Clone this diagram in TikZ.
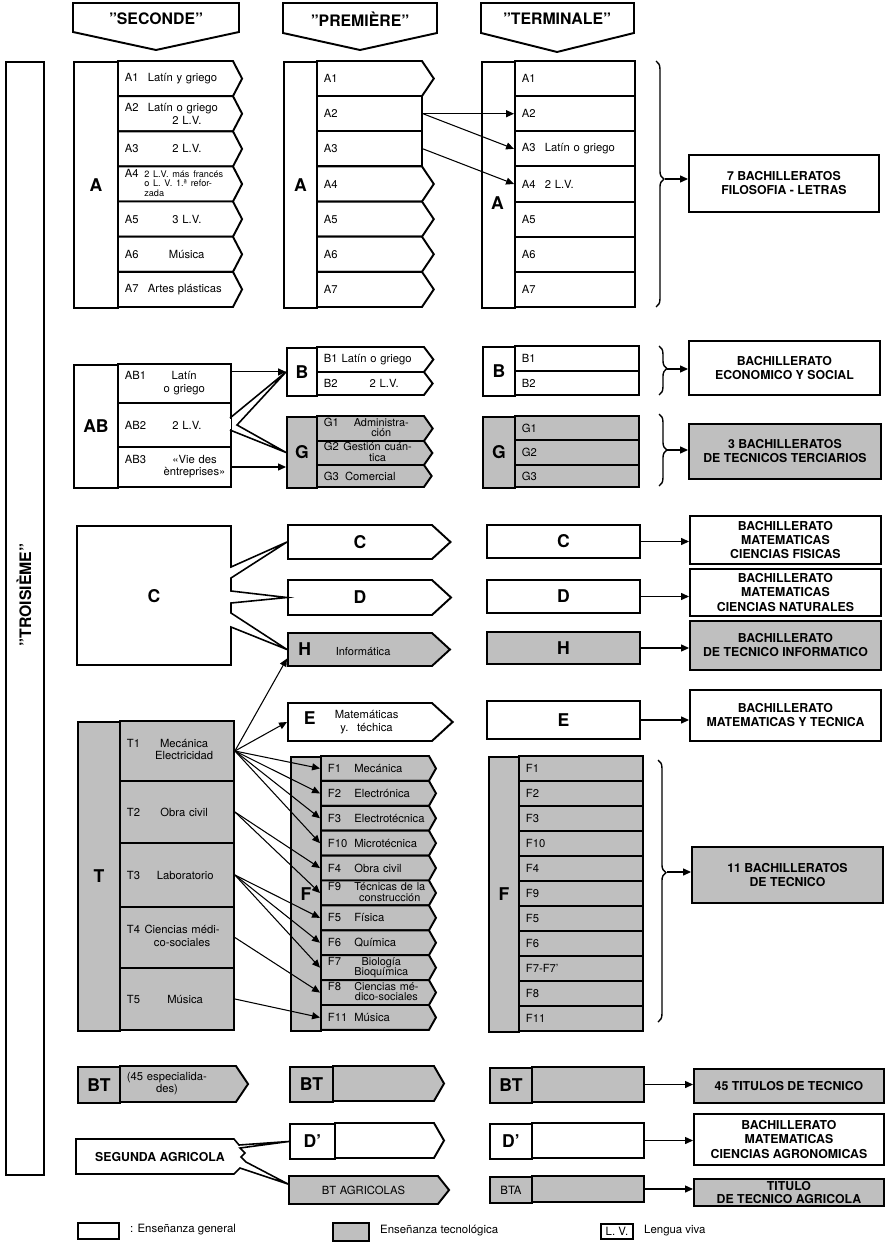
\documentclass[tikz,border=0pt]{standalone}
\usepackage{fontspec}
\setmainfont{TeX Gyre Heros}
\usetikzlibrary{positioning,arrows.meta,calc,shapes.symbols,decorations.pathreplacing}

\newcommand{\rlab}[2]{\makebox[#1][l]{#2}}
\newcommand{\tline}[2]{\begin{tabular}[t]{@{}c@{}}#1\\#2\end{tabular}}
\newcommand{\tset}{\fontsize{6.2}{5.8}\selectfont\renewcommand\arraystretch{0.85}}

\begin{document}
\begin{tikzpicture}[
    x=0.02cm, y=-0.02cm,
    >={Triangle[length=4.5pt,width=4pt]},
    box/.style={draw, line width=1.1pt, fill=white, inner sep=0pt},
    tec/.style={fill=black!25},
    lcol/.style={box, anchor=north west, font=\bfseries\fontsize{10}{10}\selectfont},
    bigl/.style={font=\bfseries\fontsize{10}{10}\selectfont},
    rw/.style={box, anchor=west, inner xsep=0.14cm, inner ysep=0pt, align=left,
               font=\fontsize{6.4}{7.4}\selectfont\renewcommand\arraystretch{0.95}},
    ptr/.style={rw, shape=signal, signal to=east, signal pointer angle=#1},
    sArow/.style={ptr=125, text width=2.02cm, minimum height=0.703cm},
    pArow/.style={ptr=112, text width=1.82cm, minimum height=0.703cm},
    pbig/.style={ptr=85, text width=2.6cm, align=center,
                 font=\bfseries\fontsize{10}{10}\selectfont},
    tbox/.style={box, anchor=west, minimum width=3.06cm,
                 font=\bfseries\fontsize{10}{10}\selectfont},
    bach/.style={box, anchor=north west, align=center,
                 font=\bfseries\fontsize{7}{8}\selectfont},
    hdr/.style={font=\bfseries\fontsize{9}{9}\selectfont},
    outl/.style={line width=0.9pt, line join=miter},
    sig/.style={->, line width=0.6pt},
    brc/.style={decorate, decoration={brace, amplitude=4.5pt, aspect=#1},
                line width=0.8pt},
    note/.style={anchor=west, font=\fontsize{6.5}{7}\selectfont},
  ]
  \useasboundingbox (0,0) rectangle (888,1243);

  % ============ headers ============
  \draw[box] (73,3) -- (239,3) -- (239,32) -- (156,50) -- (73,32) -- cycle;
  \node[hdr] (hSec) at (156,19) {''SECONDE''};
  \draw[box] (283,3) -- (437,3) -- (437,33) -- (360,50) -- (283,33) -- cycle;
  \node[hdr] (hPre) at (360,19) {''PREMIÈRE''};
  \draw[box] (481,3) -- (634,3) -- (634,33) -- (557,52) -- (481,33) -- cycle;
  \node[hdr] (hTer) at (557,19) {''TERMINALE''};

  \node[box, anchor=north west, minimum width=0.76cm, minimum height=22.26cm] (trois) at (5,61) {};
  \node[hdr, rotate=90] (troisT) at (24,595) {''TROISIÈME''};

  % ============ A ============
  \node[lcol, minimum width=0.88cm, minimum height=4.92cm] (sA) at (73,61) {A};
  \node[sArow] (sA1) at (117,78.6) {\rlab{13pt}{A1}Latín y griego};
  \node[sArow] (sA2) at (117,113.7) {\rlab{13pt}{A2}Latín o griego\\\hspace*{27pt}2 L.V.};
  \node[sArow] (sA3) at (117,148.9) {\rlab{27pt}{A3}2 L.V.};
  \node[sArow] (sA4) at (117,184) {\rlab{11pt}{A4}{\fontsize{5.2}{5.6}\selectfont
        \begin{tabular}[t]{@{}l@{}}2 L.V. más francés\\o L. V. 1.ª refor-\\zada\end{tabular}}};
  \node[sArow] (sA5) at (117,219.1) {\rlab{27pt}{A5}3 L.V.};
  \node[sArow] (sA6) at (117,254.3) {\rlab{25pt}{A6}Música};
  \node[sArow] (sA7) at (117,289.4) {\rlab{13pt}{A7}Artes plásticas};

  \node[lcol, minimum width=0.66cm, minimum height=4.92cm] (pA) at (283,61) {A};
  \foreach \i in {1,4,5,6,7}
    \node[pArow] (pA\i) at (316,{61+35.14*(\i-0.5)}) {A\i};
  \foreach \i in {2,3}
    \node[rw, text width=1.82cm, minimum height=0.703cm] (pA\i) at (316,{61+35.14*(\i-0.5)}) {A\i};

  \node[lcol, minimum width=0.66cm, minimum height=4.92cm] (tA) at (481,61) {};
  \node[bigl] (tAl) at (497.5,203) {A};
  \foreach \i/\t in {1/,2/,3/Latín o griego,4/2 L.V.,5/,6/,7/}
    \node[rw, text width=2.12cm, minimum height=0.703cm] (tA\i) at (514,{61+35.14*(\i-0.5)}) {\rlab{13pt}{A\i}\t};

  \draw[brc=0.48] (656,61) -- (656,307);
  \coordinate (brA) at (665,179);
  \node[bach, minimum width=3.8cm, minimum height=1.14cm] (bA) at (688,154) {7 BACHILLERATOS\\FILOSOFIA - LETRAS};
  \draw[sig] (brA) -- (brA -| bA.west);
  \draw[sig] (pA2.east) -- (tA2.west);
  \draw[sig] (pA2.east) -- (tA3.west);
  \draw[sig] (pA3.east) -- (tA4.west);

  % ============ AB, B, G ============
  \node[lcol, minimum width=0.88cm, minimum height=2.46cm] (sAB) at (73,364) {AB};
  \node[rw, text width=1.98cm, minimum height=0.78cm] (sAB1) at (117,383.5) {\rlab{22pt}{AB1}\tline{Latín}{o griego}};
  \node[rw, text width=1.98cm, minimum height=0.88cm] (sAB2) at (117,425) {\rlab{27pt}{AB2}2 L.V.};
  \node[rw, text width=1.98cm, minimum height=0.8cm] (sAB3) at (117,467) {\rlab{22pt}{AB3}\tline{«Vie des}{èntreprises»}};

  \node[lcol, minimum width=0.6cm, minimum height=0.96cm] (pB) at (286,347) {B};
  \node[ptr=106, text width=1.86cm, minimum height=0.5cm] (pB1) at (316,359.5) {\rlab{10pt}{B1}Latín o griego};
  \node[ptr=106, text width=1.86cm, minimum height=0.46cm] (pB2) at (316,383.5) {\rlab{26pt}{B2}2 L.V.};
  \node[lcol, tec, minimum width=0.6cm, minimum height=1.42cm] (pG) at (286,416) {G};
  \node[ptr=110, tec, text width=1.86cm, minimum height=0.5cm] (pG1) at (316,428.5) {\rlab{17pt}{G1}\tset\tline{Administra-}{ción}};
  \node[ptr=110, tec, text width=1.86cm, minimum height=0.48cm] (pG2) at (316,453) {\rlab{11pt}{G2}\tset\tline{Gestión cuán-}{tica}};
  \node[ptr=110, tec, text width=1.86cm, minimum height=0.44cm] (pG3) at (316,476) {\rlab{12pt}{G3}Comercial};

  \node[lcol, minimum width=0.64cm, minimum height=0.98cm] (tB) at (482,346) {B};
  \node[rw, text width=2.2cm, minimum height=0.5cm] (tB1) at (514,358.5) {B1};
  \node[rw, text width=2.2cm, minimum height=0.48cm] (tB2) at (514,383) {B2};
  \node[lcol, tec, minimum width=0.64cm, minimum height=1.42cm] (tG) at (482,416) {G};
  \node[rw, tec, text width=2.2cm, minimum height=0.48cm] (tG1) at (514,428) {G1};
  \node[rw, tec, text width=2.2cm, minimum height=0.5cm] (tG2) at (514,452.5) {G2};
  \node[rw, tec, text width=2.2cm, minimum height=0.44cm] (tG3) at (514,476) {G3};

  \draw[brc=0.46] (659,346) -- (659,395);
  \coordinate (brB) at (667,369);
  \node[bach, minimum width=3.82cm, minimum height=1.08cm] (bB) at (688,340) {BACHILLERATO\\ECONOMICO Y SOCIAL};
  \draw[sig] (brB) -- (brB -| bB.west);
  \draw[brc=0.5] (659,414) -- (659,486);
  \coordinate (brG) at (667,450);
  \node[bach, tec, minimum width=3.84cm, minimum height=1.1cm] (bG) at (688,423) {3 BACHILLERATOS\\DE TECNICOS TERCIARIOS};
  \draw[sig] (brG) -- (brG -| bG.west);

  \draw[white, line width=1.6pt] (230,419) -- (230,429);
  \draw[outl] (230,418) -- (pB.west) -- (237,425) -- (pG.west) -- (230,430);
  \draw[sig] (pB.west -| sAB1.east) -- (pB.west);
  \draw[sig] (sAB3.east) -- (sAB3.east -| pG.west);

  % ============ C, D, H, E ============
  \node[pbig, minimum height=0.68cm] (pC) at (287,542) {C};
  \node[pbig, minimum height=0.7cm] (pD) at (287,597.5) {D};
  \node[pbig, tec, minimum height=0.66cm, align=left] (pH) at (287,649.5) {\hspace*{2pt}H\hspace{14pt}{\mdseries\fontsize{6.3}{7}\selectfont Informática}};
  \node[pbig, minimum height=0.76cm, align=left] (pE) at (287,722) {\hspace*{5pt}E\hspace{11pt}{\mdseries\fontsize{6.4}{7.4}\selectfont
        \begin{tabular}{@{}c@{}}Matemáticas\\y. téchica\end{tabular}}};

  \node[bigl] (sC) at (154,596) {C};
  \draw[outl] (pC.west) -- (231,567) -- (231,526) -- (77,526) -- (77,665) -- (231,665)
        -- (231,627) -- (pH.west) -- (231,613) -- (231,603) -- (pD.west) -- (231,591)
        -- (231,578) -- cycle;

  \node[tbox, minimum height=0.66cm] (tC) at (486,541.5) {C};
  \node[tbox, minimum height=0.66cm] (tD) at (486,596.5) {D};
  \node[tbox, tec, minimum height=0.64cm] (tH) at (486,648) {H};
  \node[tbox, minimum height=0.76cm] (tE) at (486,720) {E};

  \node[bach, minimum width=3.82cm, minimum height=0.96cm] (bC) at (689,515) {BACHILLERATO\\MATEMATICAS\\CIENCIAS FISICAS};
  \node[bach, minimum width=3.82cm, minimum height=0.94cm] (bD) at (689,568) {BACHILLERATO\\MATEMATICAS\\CIENCIAS NATURALES};
  \node[bach, tec, minimum width=3.82cm, minimum height=0.98cm] (bH) at (689,620) {BACHILLERATO\\DE TECNICO INFORMATICO};
  \node[bach, minimum width=3.82cm, minimum height=1.02cm] (bE) at (689,689) {BACHILLERATO\\MATEMATICAS Y TECNICA};
  \foreach \n in {C,D,H,E}
    \draw[sig] (t\n.east) -- (t\n.east -| b\n.west);

  % ============ T, F ============
  \node[lcol, tec, minimum width=0.84cm, minimum height=6.18cm] (sT) at (77,721) {T};
  \node[rw, tec, text width=2.0cm, minimum height=1.2cm] (sT1) at (119,751) {\rlab{16pt}{T1}\tline{Mecánica}{Electricidad}};
  \node[rw, tec, text width=2.0cm, minimum height=1.24cm] (sT2) at (119,812) {\rlab{19pt}{T2}Obra civil};
  \node[rw, tec, text width=2.0cm, minimum height=1.28cm] (sT3) at (119,875) {\rlab{17pt}{T3}Laboratorio};
  \node[rw, tec, text width=2.0cm, minimum height=1.22cm] (sT4) at (119,937.5) {\rlab{10pt}{T4}\tline{Ciencias médi-}{co-sociales}};
  \node[rw, tec, text width=2.0cm, minimum height=1.24cm] (sT5) at (119,999) {\rlab{23pt}{T5}Música};

  \node[lcol, tec, minimum width=0.6cm, minimum height=5.48cm] (pF) at (290,756) {F};
  \foreach \t [count=\i] in {{\rlab{15pt}{F1}Mecánica}, {\rlab{15pt}{F2}Electrónica},
      {\rlab{15pt}{F3}Electrotécnica}, {\rlab{15pt}{F10}Microtécnica},
      {\rlab{15pt}{F4}Obra civil}, {\rlab{15pt}{F9}\tset\tline{Técnicas de la}{construcción}},
      {\rlab{15pt}{F5}Física}, {\rlab{15pt}{F6}Química},
      {\rlab{15pt}{F7}\tset\tline{Biología}{Bioquímica}},
      {\rlab{15pt}{F8}\tset\tline{Ciencias mé-}{dico-sociales}}, {\rlab{15pt}{F11}Música}}
    \node[ptr=121, tec, text width=1.88cm, minimum height=0.498cm] (pF\i) at (320,{756+24.9*(\i-0.5)}) {\t};

  \node[lcol, tec, minimum width=0.6cm, minimum height=5.5cm] (tF) at (488,756) {F};
  \foreach \n [count=\i] in {F1,F2,F3,F10,F4,F9,F5,F6,F7-F7',F8,F11}
    \node[rw, tec, text width=2.2cm, minimum height=0.5cm] (tF\i) at (518,{756+25*(\i-0.5)}) {\n};

  \draw[brc=0.43] (658,760) -- (658,1022);
  \coordinate (brF) at (667,872);
  \node[bach, tec, minimum width=3.82cm, minimum height=1.12cm] (bF) at (691,846) {11 BACHILLERATOS\\DE TECNICO};
  \draw[sig] (brF) -- (brF -| bF.west);

  \draw[sig] (sT1.east) -- ($(pH.west)+(0,9)$);
  \draw[sig] (sT1.east) -- (pE.west);
  \foreach \j in {1,...,4}
    \draw[sig] (sT1.east) -- (pF\j.west);
  \foreach \j in {5,6}
    \draw[sig] (sT2.east) -- (pF\j.west);
  \foreach \j in {7,8,9}
    \draw[sig] (sT3.east) -- (pF\j.west);
  \draw[sig] (sT4.east) -- (pF10.west);
  \draw[sig] (sT5.east) -- (pF11.west);

  % ============ BT, agricola ============
  \node[lcol, tec, minimum width=0.84cm, minimum height=0.72cm] (sBT) at (77,1066) {BT};
  \node[ptr=112, tec, text width=2.04cm, minimum height=0.72cm] (sBT1) at (119,1084) {\tline{(45 especialida-}{des)}};

  \node[lcol, tec, minimum width=0.86cm, minimum height=0.7cm] (pBT) at (289,1066) {BT};
  \node[ptr=120, tec, text width=1.74cm, minimum height=0.7cm] (pBT1) at (332,1083.5) {};
  \node[lcol, minimum width=0.9cm, minimum height=0.7cm] (pDp) at (289,1123) {D'};
  \node[ptr=120, text width=1.7cm, minimum height=0.7cm] (pDp1) at (334,1140.5) {};
  \node[ptr=103, tec, text width=2.7cm, minimum height=0.56cm, align=center] (pBTA) at (288,1190) {BT AGRICOLAS};

  \node[font=\bfseries\fontsize{7}{8}\selectfont] (sSA) at (160,1157) {SEGUNDA AGRICOLA};
  \draw[outl] (76,1139) -- (234,1139) -- (239,1145) -- (pDp.west) -- (240,1148) -- (245,1153)
        -- (241,1157) -- (246,1162) -- ($(pBTA.west)+(0,-6)$) -- (240,1168) -- (234,1174)
        -- (76,1174) -- cycle;

  \node[lcol, tec, minimum width=0.84cm, minimum height=0.7cm] (tBT) at (489,1067) {BT};
  \node[rw, tec, minimum width=2.24cm, minimum height=0.7cm] (tBT1) at (531,1084.5) {};
  \node[lcol, minimum width=0.84cm, minimum height=0.7cm] (tDp) at (489,1123) {D'};
  \node[rw, minimum width=2.24cm, minimum height=0.7cm] (tDp1) at (531,1140.5) {};
  \node[lcol, tec, minimum width=0.84cm, minimum height=0.52cm,
        font=\fontsize{6.5}{7}\selectfont] (tBTA) at (489,1176) {BTA};
  \node[rw, tec, minimum width=2.24cm, minimum height=0.52cm] (tBTA1) at (531,1189) {};

  \node[bach, tec, minimum width=3.8cm, minimum height=0.68cm] (b45) at (693,1068) {45 TITULOS DE TECNICO};
  \node[bach, minimum width=3.8cm, minimum height=1.02cm] (bAgr) at (693,1113) {BACHILLERATO\\MATEMATICAS\\CIENCIAS AGRONOMICAS};
  \node[bach, tec, minimum width=3.8cm, minimum height=0.54cm,
        font=\bfseries\fontsize{7}{7}\selectfont] (bTit) at (693,1178) {TITULO\\DE TECNICO AGRICOLA};
  \draw[sig] (tBT1.east) -- (tBT1.east -| b45.west);
  \draw[sig] (tDp1.east) -- (tDp1.east -| bAgr.west);
  \draw[sig] (tBTA1.east) -- (tBTA1.east -| bTit.west);

  % ============ legend ============
  \node[box, anchor=north west, minimum width=0.82cm, minimum height=0.32cm] (lgG) at (77,1222) {};
  \node[note] (lgGt) at (124,1230) {: Enseñanza general};
  \node[box, tec, anchor=north west, minimum width=0.72cm, minimum height=0.36cm] (lgT) at (332,1222) {};
  \node[note] (lgTt) at (374,1231) {Enseñanza tecnológica};
  \node[box, anchor=north west, minimum width=0.64cm, minimum height=0.3cm,
        font=\fontsize{6.5}{7}\selectfont] (lgL) at (600,1223) {L. V.};
  \node[note] (lgLt) at (638,1231) {Lengua viva};

\end{tikzpicture}
\end{document}
